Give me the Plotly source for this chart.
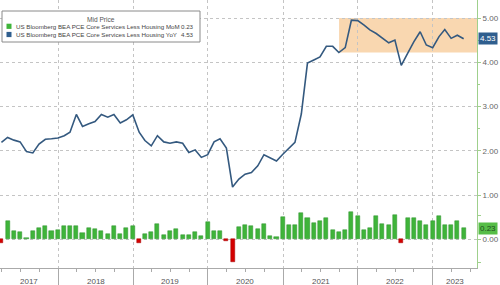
import pandas as pd
import plotly.graph_objects as go

# ---- data ----
start_month = "2017-04-01"
yoy = [2.19, 2.30, 2.24, 2.20, 1.98, 1.95, 2.15, 2.26, 2.27, 2.29, 2.34, 2.42, 2.82, 2.55, 2.61,
       2.66, 2.82, 2.76, 2.82, 2.63, 2.70, 2.81, 2.42, 2.23, 2.11, 2.34, 2.20, 2.17, 2.20, 2.17,
       1.96, 2.02, 1.85, 1.91, 2.20, 2.27, 2.06, 1.18, 1.36, 1.47, 1.51, 1.66, 1.91, 1.83, 1.77,
       1.92, 2.06, 2.19, 2.83, 3.98, 4.05, 4.12, 4.36, 4.36, 4.22, 4.33, 4.95, 4.94, 4.84, 4.73,
       4.65, 4.54, 4.44, 4.50, 3.93, 4.20, 4.46, 4.69, 4.39, 4.33, 4.58, 4.74, 4.54, 4.61, 4.53]
mom = [-0.07, 0.38, 0.17, 0.16, 0.03, 0.17, 0.23, 0.28, 0.17, 0.19, 0.28, 0.28, 0.28, 0.14, 0.23,
       0.21, 0.17, 0.12, 0.28, 0.11, 0.25, 0.28, -0.07, 0.12, 0.16, 0.33, 0.10, 0.18, 0.21, 0.09,
       0.10, 0.15, 0.06, 0.36, 0.18, 0.18, -0.03, -0.48, 0.26, 0.30, 0.28, 0.21, 0.33, 0.07, 0.04,
       0.48, 0.30, 0.30, 0.57, 0.45, 0.35, 0.40, 0.46, 0.20, 0.16, 0.20, 0.58, 0.50, 0.19, 0.23,
       0.49, 0.33, 0.30, 0.52, -0.08, 0.46, 0.46, 0.39, 0.31, 0.40, 0.49, 0.31, 0.30, 0.40, 0.23]
years = ["2017", "2018", "2019", "2020", "2021", "2022", "2023"]
top_ticks = [1, 2, 3, 4, 5]
top_ticktext = ["1.00", "2.00", "3.00", "4.00", "5.00"]
bot_ticks = [0]
bot_ticktext = ["0.00"]
legend_title = "Mid Price"
name_mom = "US Bloomberg BEA PCE Core Services Less Housing MoM"
name_yoy = "US Bloomberg BEA PCE Core Services Less Housing YoY"
band_start = "2021-10-01"
band_lo, band_hi = 4.22, 5.0

x_range = ["2017-03-24", "2023-08-04"]

dates = pd.date_range(start=start_month, periods=len(yoy), freq="MS") - pd.Timedelta(days=1)

GREEN = "#3fb43a"
RED = "#d40000"
BLUE = "#34597f"
GRID = "#c4c4c4"
AXG = "#9fd08c"
FONT = "Liberation Sans"

W, H = 500, 285
ml, mr, mt, mb = 0, 23, 0, 17
pw, ph = W - ml - mr, H - mt - mb
split = 200  # px from top where lower panel starts

def px(xp):
    return xp / pw

def py(yp):
    return 1 - yp / ph

fig = go.Figure()

fig.add_trace(go.Scatter(x=dates, y=yoy, mode="lines", line=dict(color=BLUE, width=1.6),
                         xaxis="x", yaxis="y", showlegend=False, name=name_yoy))

bar_colors = [GREEN if v >= 0 else RED for v in mom]
line_colors = ["#2b8f2b" if v >= 0 else "#a00000" for v in mom]
fig.add_trace(go.Bar(x=dates, y=mom, marker=dict(color=bar_colors, line=dict(color=line_colors, width=0.5)),
                     width=20 * 86400000, xaxis="x2", yaxis="y2", showlegend=False, name=name_mom))

year_ticks = [f"{y}-01-01" for y in range(2017, 2024)]

fig.update_layout(
    width=W, height=H,
    margin=dict(l=ml, r=mr, t=mt, b=mb),
    paper_bgcolor="white", plot_bgcolor="white",
    font=dict(family=FONT, size=8, color="#555"),
    bargap=0,
    xaxis=dict(domain=[0, 1], anchor="y", range=x_range, type="date", matches="x2",
               showticklabels=False, tickvals=year_ticks[1:], ticks="",
               showgrid=True, gridcolor=GRID, griddash="dot", gridwidth=1,
               showline=False, zeroline=False),
    xaxis2=dict(domain=[0, 1], anchor="y2", range=x_range, type="date",
                tickvals=year_ticks[1:], showticklabels=False,
                ticks="outside", ticklen=17, tickcolor="#aaa", tickwidth=1,
                showgrid=True, gridcolor=GRID, griddash="dot", gridwidth=1,
                showline=True, linecolor="#aaa", linewidth=1, zeroline=False,
                minor=dict(dtick="M3", tick0="2017-01-01", ticks="outside", ticklen=3,
                           tickcolor="#aaa", showgrid=False)),
    yaxis=dict(domain=[py(split), 1], anchor="x", side="right",
               range=[1 - 5 / 44.25, 5 + 18 / 44.25],
               tickvals=top_ticks, ticktext=top_ticktext, ticks="outside", ticklen=3,
               tickcolor=AXG, tickfont=dict(size=8, color="#666"),
               showgrid=True, gridcolor=GRID, griddash="dot", gridwidth=1,
               showline=True, linecolor=AXG, linewidth=1, zeroline=False,
               minor=dict(dtick=0.5, ticks="outside", ticklen=2, tickcolor=AXG, showgrid=False)),
    yaxis2=dict(domain=[0, py(split)], anchor="x2", side="right",
                range=[-28.7 / 47, 39.3 / 47],
                tickvals=bot_ticks, ticktext=bot_ticktext, ticks="outside", ticklen=3,
                tickcolor=AXG, tickfont=dict(size=8, color="#666"),
                showgrid=True, gridcolor=GRID, griddash="dot", gridwidth=1,
                showline=True, linecolor=AXG, linewidth=1, zeroline=False,
                minor=dict(dtick=0.5, tick0=0, ticks="outside", ticklen=3, tickcolor=AXG, showgrid=False)),
)

# highlighted band
fig.add_shape(type="rect", xref="x", yref="y", x0=band_start, x1=x_range[1], y0=band_lo, y1=band_hi,
              fillcolor="#f9d7b0", line=dict(width=0), layer="below")

# year labels centred in visible part of each year
rs, re_ = pd.Timestamp(x_range[0]), pd.Timestamp(x_range[1])
for y in years:
    a = max(pd.Timestamp(f"{y}-01-01"), rs)
    b = min(pd.Timestamp(f"{int(y)+1}-01-01"), re_)
    c = a + (b - a) / 2
    fig.add_annotation(x=c, xref="x2", y=py(281), yref="paper", text=y, showarrow=False,
                       font=dict(size=8, color="#555"), xanchor="center", yanchor="middle")

# last-value labels
fig.add_annotation(x=1, xref="paper", y=yoy[-1], yref="y", text=f"{yoy[-1]:.2f}", showarrow=False,
                   xanchor="left", yanchor="middle", bgcolor="#2f5e8e", font=dict(size=8, color="white"),
                   borderpad=1, xshift=1)
fig.add_annotation(x=1, xref="paper", y=mom[-1], yref="y2", text=f"{mom[-1]:.2f}", showarrow=False,
                   xanchor="left", yanchor="middle", bgcolor="#56bd47", font=dict(size=8, color="#1d4d1d"),
                   borderpad=1, xshift=1)

# legend box
LF = 6.2
fig.add_shape(type="rect", xref="paper", yref="paper", x0=px(2), x1=px(200), y0=py(42), y1=py(11),
              fillcolor="white", line=dict(color="#8a8a8a", width=1))
fig.add_annotation(x=px(101), y=py(19.5), xref="paper", yref="paper", text=legend_title, showarrow=False,
                   font=dict(size=6.6, color="#555"), xanchor="center", yanchor="middle")
for i, (nm, col, val) in enumerate([(name_mom, GREEN, mom[-1]), (name_yoy, "#2f5e8e", yoy[-1])]):
    yc = 26.3 + i * 8.2
    fig.add_shape(type="rect", xref="paper", yref="paper", x0=px(6.5), x1=px(11.5), y0=py(yc + 2.6), y1=py(yc - 2.6),
                  fillcolor=col, line=dict(width=0))
    fig.add_annotation(x=px(14), y=py(yc), xref="paper", yref="paper", text=nm, showarrow=False,
                       font=dict(size=LF, color="#444"), xanchor="left", yanchor="middle")
    fig.add_annotation(x=px(196), y=py(yc), xref="paper", yref="paper", text=f"{val:.2f}", showarrow=False,
                       font=dict(size=LF, color="#444"), xanchor="right", yanchor="middle")

fig.write_html("out.html")
